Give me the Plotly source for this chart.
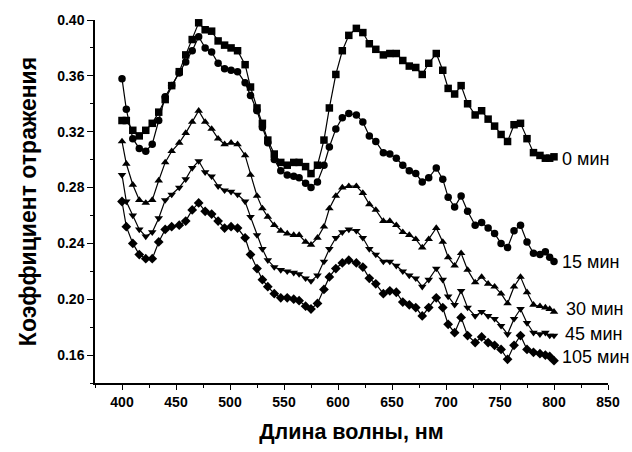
import plotly.graph_objects as go

wavelength = [400, 404, 410, 416, 422, 428, 434, 440, 446, 453, 459, 465, 471, 477, 483, 489, 495,
              501, 507, 514, 519, 525, 530, 535, 541, 547, 553, 559, 564, 570, 575, 581, 587, 592,
              598, 604, 610, 617, 623, 629, 635, 642, 648, 654, 660, 666, 672, 678, 684, 691, 697,
              702, 708, 714, 720, 727, 733, 739, 745, 751, 757, 763, 769, 775, 781, 787, 792, 796, 800]

r_0 = [0.328, 0.328, 0.321, 0.317, 0.321, 0.326, 0.334, 0.343, 0.353, 0.363, 0.375, 0.386, 0.398,
       0.393, 0.392, 0.385, 0.382, 0.380, 0.378, 0.368, 0.352, 0.337, 0.326, 0.314, 0.304, 0.298,
       0.296, 0.298, 0.298, 0.295, 0.290, 0.296, 0.314, 0.337, 0.361, 0.378, 0.389, 0.394, 0.391,
       0.383, 0.379, 0.375, 0.376, 0.376, 0.371, 0.367, 0.366, 0.361, 0.369, 0.376, 0.364, 0.351,
       0.347, 0.353, 0.340, 0.332, 0.335, 0.329, 0.324, 0.318, 0.313, 0.325, 0.326, 0.315, 0.305,
       0.303, 0.301, 0.301, 0.302]

r_15 = [0.358, 0.336, 0.315, 0.308, 0.306, 0.311, 0.328, 0.345, 0.353, 0.362, 0.370, 0.378, 0.388,
        0.380, 0.377, 0.369, 0.365, 0.364, 0.363, 0.355, 0.346, 0.335, 0.323, 0.312, 0.300, 0.292,
        0.289, 0.288, 0.287, 0.283, 0.280, 0.284, 0.296, 0.309, 0.322, 0.330, 0.333, 0.332, 0.327,
        0.317, 0.313, 0.305, 0.304, 0.301, 0.296, 0.292, 0.290, 0.284, 0.287, 0.294, 0.286, 0.273,
        0.266, 0.274, 0.263, 0.253, 0.255, 0.251, 0.247, 0.240, 0.237, 0.249, 0.253, 0.241, 0.233,
        0.232, 0.234, 0.230, 0.227]

r_30 = [0.313, 0.297, 0.282, 0.271, 0.269, 0.271, 0.285, 0.298, 0.306, 0.312, 0.319, 0.327, 0.335,
        0.327, 0.322, 0.315, 0.311, 0.312, 0.311, 0.303, 0.289, 0.274, 0.265, 0.259, 0.253, 0.249,
        0.247, 0.246, 0.246, 0.241, 0.239, 0.244, 0.252, 0.265, 0.274, 0.280, 0.281, 0.281, 0.276,
        0.268, 0.264, 0.256, 0.256, 0.253, 0.248, 0.246, 0.243, 0.237, 0.243, 0.251, 0.241, 0.230,
        0.224, 0.233, 0.221, 0.212, 0.216, 0.211, 0.209, 0.204, 0.197, 0.209, 0.216, 0.205, 0.196,
        0.195, 0.194, 0.193, 0.191]

r_45 = [0.289, 0.270, 0.260, 0.250, 0.245, 0.248, 0.258, 0.271, 0.275, 0.280, 0.286, 0.294, 0.299,
        0.291, 0.288, 0.281, 0.278, 0.277, 0.275, 0.270, 0.259, 0.246, 0.236, 0.228, 0.223, 0.221,
        0.220, 0.219, 0.218, 0.215, 0.213, 0.217, 0.227, 0.236, 0.244, 0.248, 0.250, 0.249, 0.244,
        0.236, 0.232, 0.227, 0.227, 0.224, 0.220, 0.217, 0.215, 0.209, 0.214, 0.222, 0.214, 0.202,
        0.196, 0.206, 0.194, 0.188, 0.191, 0.188, 0.186, 0.181, 0.175, 0.186, 0.193, 0.183, 0.176,
        0.175, 0.176, 0.174, 0.174]

r_105 = [0.270, 0.252, 0.240, 0.232, 0.229, 0.229, 0.241, 0.250, 0.252, 0.253, 0.256, 0.264, 0.269,
         0.263, 0.261, 0.256, 0.251, 0.252, 0.251, 0.244, 0.232, 0.222, 0.214, 0.209, 0.204, 0.201,
         0.201, 0.200, 0.199, 0.195, 0.193, 0.197, 0.207, 0.216, 0.222, 0.226, 0.228, 0.226, 0.223,
         0.215, 0.211, 0.204, 0.206, 0.205, 0.198, 0.196, 0.194, 0.188, 0.194, 0.201, 0.194, 0.182,
         0.176, 0.187, 0.174, 0.169, 0.173, 0.169, 0.167, 0.164, 0.157, 0.167, 0.174, 0.164, 0.162,
         0.161, 0.160, 0.159, 0.156]

series_labels = ["0 мин", "15 мин", "30 мин", "45 мин", "105 мин"]
series_values = [r_0, r_15, r_30, r_45, r_105]
symbols = ["square", "circle", "triangle-up", "triangle-down", "diamond"]
label_pos = [(806, 0.3005), (806, 0.2265), (809, 0.193), (808, 0.175), (806, 0.1583)]

y_ticks = [0.16, 0.20, 0.24, 0.28, 0.32, 0.36, 0.40]
x_ticks = [400, 450, 500, 550, 600, 650, 700, 750, 800, 850]

fig = go.Figure()
for name, vals, sym in zip(series_labels, series_values, symbols):
    fig.add_trace(go.Scatter(
        x=wavelength, y=vals, mode="lines+markers", name=name,
        line=dict(color="black", width=1.2),
        marker=dict(symbol=sym, size=7.5, color="black"),
        cliponaxis=False, showlegend=False))

for name, (lx, ly) in zip(series_labels, label_pos):
    fig.add_annotation(x=lx, y=ly, xref="x", yref="y", text=name, showarrow=False,
                       xanchor="left", yanchor="middle",
                       font=dict(family="Liberation Sans, Arial", size=18, color="black"))

tickfont = dict(family="Liberation Sans, Arial", size=14, color="black", weight="bold")
xtitlefont = dict(family="Liberation Sans, Arial", size=21.5, color="black", weight="bold")
ytitlefont = dict(family="Liberation Sans, Arial", size=23, color="black", weight="bold")

fig.update_xaxes(range=[375, 850], tickvals=x_ticks, ticktext=[str(v) for v in x_ticks],
                 ticks="outside", ticklen=5, tickwidth=1, tickcolor="black",
                 showline=True, linecolor="black", linewidth=1.5, showgrid=False, zeroline=False,
                 minor=dict(dtick=25, tick0=375, ticks="outside", ticklen=3, tickcolor="black", showgrid=False),
                 tickfont=tickfont,
                 title=dict(text="Длина волны, нм", font=xtitlefont, standoff=15))
fig.update_yaxes(range=[0.14, 0.40], tickvals=y_ticks, ticktext=["%.2f" % v for v in y_ticks],
                 ticks="outside", ticklen=6, tickwidth=1, tickcolor="black",
                 showline=True, linecolor="black", linewidth=1.5, showgrid=False, zeroline=False,
                 minor=dict(dtick=0.02, tick0=0.14, ticks="outside", ticklen=3, tickcolor="black", showgrid=False),
                 tickfont=tickfont,
                 title=dict(text="Коэффициент отражения", font=ytitlefont, standoff=14))

fig.update_layout(width=632, height=452, margin=dict(l=95, r=23, t=19, b=60),
                  plot_bgcolor="white", paper_bgcolor="white")

fig.write_html("out.html")
